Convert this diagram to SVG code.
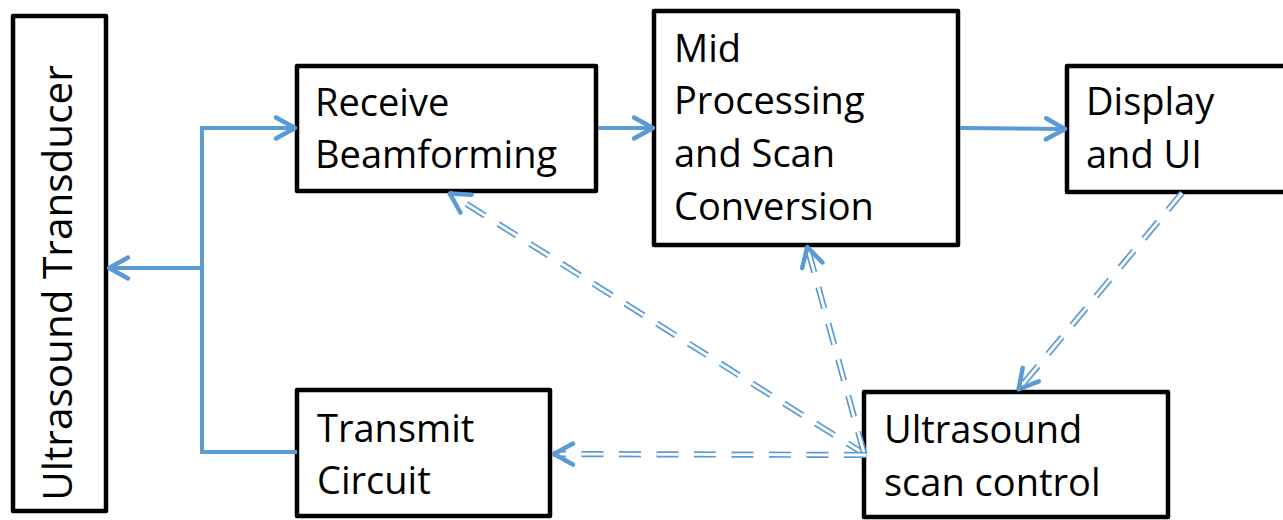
<svg xmlns="http://www.w3.org/2000/svg" width="1283" height="520" viewBox="0 0 1283 520">
  <style>
    .box { fill: #fff; stroke: #000; stroke-width: 4.5; stroke-linejoin: round; }
    .lbl { font-family: "Open Sans", "Liberation Sans", sans-serif; font-size: 38px; fill: #000; }
    .solid { fill: none; stroke: #5B9BD5; stroke-width: 4; stroke-linejoin: miter; }
    .dblo { fill: none; stroke: #5B9BD5; stroke-width: 6.2; stroke-dasharray: 22 15.5; }
    .dbli { fill: none; stroke: #fff; stroke-width: 2.8; stroke-dasharray: 22 15.5; }
  </style>
  <defs>
    <marker id="arr" viewBox="-26 -15 30 30" refX="0" refY="0" markerWidth="30" markerHeight="30" markerUnits="userSpaceOnUse" orient="auto" overflow="visible">
      <path d="M-20,-10.5 L-1,0 L-20,10.5" fill="none" stroke="#5B9BD5" stroke-width="4.5" stroke-linecap="round" stroke-linejoin="round"/>
    </marker>
  </defs>
  <rect width="1283" height="520" fill="#fff"/>

  <g id="transducer">
    <rect class="box" x="13" y="16" width="93" height="495"/>
    <text class="lbl" style="font-size:40.5px" text-anchor="middle" transform="translate(72,283) rotate(-90)">Ultrasound Transducer</text>
  </g>
  <g id="receive">
    <rect class="box" x="297" y="66" width="299" height="125"/>
    <text class="lbl" x="315" y="116">Receive</text>
    <text class="lbl" x="315" y="168">Beamforming</text>
  </g>
  <g id="mid">
    <rect class="box" x="654" y="11" width="304" height="234"/>
    <text class="lbl" x="674" y="62">Mid</text>
    <text class="lbl" x="674" y="114">Processing</text>
    <text class="lbl" x="674" y="167">and Scan</text>
    <text class="lbl" x="674" y="220">Conversion</text>
  </g>
  <g id="display">
    <rect class="box" x="1067" y="66" width="240" height="126"/>
    <text class="lbl" x="1086" y="115">Display</text>
    <text class="lbl" x="1086" y="168">and UI</text>
  </g>
  <g id="transmit">
    <rect class="box" x="297" y="390" width="253" height="126"/>
    <text class="lbl" x="317" y="442">Transmit</text>
    <text class="lbl" x="317" y="494">Circuit</text>
  </g>
  <g id="scancontrol">
    <rect class="box" x="864" y="392" width="304" height="125"/>
    <text class="lbl" x="884" y="443">Ultrasound</text>
    <text class="lbl" x="884" y="496">scan control</text>
  </g>

  <g id="connectors">
    <path class="solid" d="M297,452 L202,452 L202,128 L296,128" marker-end="url(#arr)"/>
    <path class="solid" d="M202,268 L108,268" marker-end="url(#arr)"/>
    <path class="solid" d="M598,128 L654,128" marker-end="url(#arr)"/>
    <path class="solid" d="M960,128 L1066,129" marker-end="url(#arr)"/>

    <path class="dblo" d="M866,455 L449,193"/>
    <path class="dbli" d="M866,455 L449,193" marker-end="url(#arr)"/>
    <path class="dblo" d="M864,453 L807,246"/>
    <path class="dbli" d="M864,453 L807,246" marker-end="url(#arr)"/>
    <path class="dblo" d="M1182,193 L1018,390"/>
    <path class="dbli" d="M1182,193 L1018,390" marker-end="url(#arr)"/>
    <path class="dblo" d="M866,455 L553,454"/>
    <path class="dbli" d="M866,455 L553,454" marker-end="url(#arr)"/>
  </g>
</svg>
